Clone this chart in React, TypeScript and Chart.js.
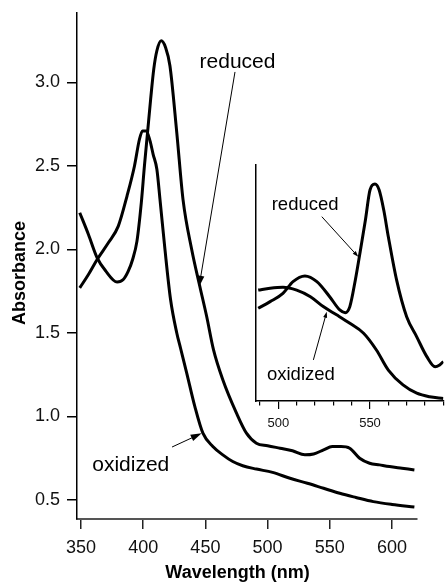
import React, { useEffect, useRef } from "react";
import { Chart, registerables } from "chart.js";

Chart.register(...registerables);

// ---------- main spectrum data ----------
const reducedWavelength = [349, 356, 363, 370, 379, 384, 388, 391.5, 395, 398.5, 401, 403.5, 406, 408.5, 411, 414.5, 418, 421.5, 427, 432, 439, 445.5, 451, 456.5, 464, 475, 483, 491, 500, 510, 520, 530, 537, 545, 552, 559, 566, 574, 582, 590, 598, 608, 618];
const reducedAbsorbance = [2.22, 2.09, 1.95, 1.87, 1.805, 1.82, 1.87, 1.94, 2.05, 2.28, 2.5, 2.7, 2.9, 3.08, 3.19, 3.25, 3.21, 3.1, 2.7, 2.3, 2.0, 1.78, 1.6, 1.4, 1.22, 1.02, 0.9, 0.84, 0.825, 0.81, 0.795, 0.77, 0.775, 0.8, 0.82, 0.82, 0.81, 0.75, 0.72, 0.71, 0.7, 0.69, 0.68];

const oxidizedWavelength = [349, 356, 363, 372, 380, 387, 393, 397, 399.5, 402.5, 405.5, 408, 411, 413.5, 417.5, 422, 427, 430, 435, 441.5, 448, 456, 464, 472, 480, 491, 504, 518, 532, 545, 558, 571, 585, 600, 618];
const oxidizedAbsorbance = [1.77, 1.85, 1.94, 2.04, 2.14, 2.32, 2.5, 2.66, 2.71, 2.71, 2.65, 2.57, 2.48, 2.3, 2.0, 1.7, 1.5, 1.41, 1.26, 1.06, 0.9, 0.82, 0.77, 0.73, 0.705, 0.685, 0.665, 0.63, 0.6, 0.57, 0.54, 0.515, 0.49, 0.473, 0.458];

const mainXTicks = [350, 400, 450, 500, 550, 600];
const mainYTicks = [0.5, 1.0, 1.5, 2.0, 2.5, 3.0];

// ---------- inset data (arbitrary units) ----------
const insetReducedWavelength = [489, 495.5, 502.5, 508, 514.5, 521, 528, 533.5, 536.5, 539, 542, 544.5, 547.5, 550, 552.7, 555, 557.5, 560, 564.5, 570, 575.5, 581, 585.5, 588, 590];
const insetReducedValue = [0.393, 0.421, 0.456, 0.506, 0.53, 0.506, 0.442, 0.386, 0.374, 0.4, 0.513, 0.626, 0.767, 0.894, 0.919, 0.894, 0.809, 0.696, 0.513, 0.357, 0.272, 0.188, 0.145, 0.153, 0.167];

const insetOxidizedWavelength = [489, 495.5, 502.5, 510, 517.5, 524.5, 532, 539, 546.5, 553.5, 560, 568, 575.5, 582.5, 590];
const insetOxidizedValue = [0.47, 0.478, 0.482, 0.47, 0.442, 0.4, 0.364, 0.329, 0.287, 0.216, 0.131, 0.068, 0.033, 0.018, 0.011];

const insetLabeledTicks = [500, 550];

// ---------- annotations (data coordinates) ----------
const mainLabelText = ["reduced", "oxidized"];
const mainLabelWl = [475.8, 390.0];
const mainLabelAbs = [3.087, 0.675];
const mainArrowFromWl = [473.8, 423.2];
const mainArrowFromAbs = [3.063, 0.817];
const mainArrowToWl = [444.9, 447.0];
const mainArrowToAbs = [1.777, 0.899];

const insetLabelText = ["reduced", "oxidized"];
const insetLabelWl = [514.6, 512.3];
const insetLabelVal = [0.809, 0.089];
const insetArrowFromWl = [523.7, 519.1];
const insetArrowFromVal = [0.781, 0.174];
const insetArrowToWl = [543.6, 526.4];
const insetArrowToVal = [0.611, 0.378];

const FONT = "'Liberation Sans', Arial, Helvetica, sans-serif";

function toPoints(xs: number[], ys: number[]) {
  return xs.map((x, i) => ({ x, y: ys[i] }));
}

function drawArrow(ctx: CanvasRenderingContext2D, x1: number, y1: number, x2: number, y2: number, headLen: number, headW: number, lw: number) {
  const ang = Math.atan2(y2 - y1, x2 - x1);
  const c = Math.cos(ang), s = Math.sin(ang);
  ctx.save();
  ctx.strokeStyle = "#000";
  ctx.fillStyle = "#000";
  ctx.lineWidth = lw;
  ctx.beginPath();
  ctx.moveTo(x1, y1);
  ctx.lineTo(x2 - headLen * 0.6 * c, y2 - headLen * 0.6 * s);
  ctx.stroke();
  ctx.beginPath();
  ctx.moveTo(x2, y2);
  ctx.lineTo(x2 - headLen * c + (headW / 2) * s, y2 - headLen * s - (headW / 2) * c);
  ctx.lineTo(x2 - headLen * c - (headW / 2) * s, y2 - headLen * s + (headW / 2) * c);
  ctx.closePath();
  ctx.fill();
  ctx.restore();
}

function makeAnnotationPlugin(
  id: string,
  texts: string[], lx: number[], ly: number[],
  fx: number[], fy: number[], tx: number[], ty: number[],
  fontSize: number, headLen: number, headW: number,
  extra?: (ctx: CanvasRenderingContext2D) => void
) {
  return {
    id,
    afterDraw(chart: any) {
      const ctx: CanvasRenderingContext2D = chart.ctx;
      const xs = chart.scales.x;
      const ys = chart.scales.y;
      ctx.save();
      ctx.fillStyle = "#000";
      ctx.font = `${fontSize}px ${FONT}`;
      ctx.textAlign = "center";
      ctx.textBaseline = "alphabetic";
      texts.forEach((t, i) => {
        ctx.fillText(t, xs.getPixelForValue(lx[i]), ys.getPixelForValue(ly[i]));
      });
      ctx.restore();
      fx.forEach((_, i) => {
        drawArrow(
          ctx,
          xs.getPixelForValue(fx[i]), ys.getPixelForValue(fy[i]),
          xs.getPixelForValue(tx[i]), ys.getPixelForValue(ty[i]),
          headLen, headW, 1
        );
      });
      if (extra) extra(ctx);
    },
  };
}

const noScalePadding = (s: any) => {
  s.paddingTop = 0;
  s.paddingBottom = 0;
  s.paddingLeft = 0;
  s.paddingRight = 0;
};

export default function App() {
  const mainRef = useRef<HTMLCanvasElement>(null);
  const insetRef = useRef<HTMLCanvasElement>(null);

  useEffect(() => {
    if (!mainRef.current || !insetRef.current) return;

    const mainPlugin = makeAnnotationPlugin(
      "mainAnnotations",
      mainLabelText, mainLabelWl, mainLabelAbs,
      mainArrowFromWl, mainArrowFromAbs, mainArrowToWl, mainArrowToAbs,
      21, 11, 7,
      (ctx) => {
        ctx.save();
        ctx.fillStyle = "#000";
        ctx.font = `bold 18px ${FONT}`;
        ctx.textAlign = "center";
        ctx.textBaseline = "alphabetic";
        ctx.fillText("Wavelength (nm)", 237.5, 577.5);
        ctx.translate(25, 273);
        ctx.rotate(-Math.PI / 2);
        ctx.fillText("Absorbance", 0, 0);
        ctx.restore();
      }
    );

    const main = new Chart(mainRef.current, {
      type: "line",
      data: {
        datasets: [
          {
            label: "reduced",
            data: toPoints(reducedWavelength, reducedAbsorbance),
            borderColor: "#000",
            borderWidth: 3,
            pointRadius: 0,
            cubicInterpolationMode: "monotone",
            fill: false,
          },
          {
            label: "oxidized",
            data: toPoints(oxidizedWavelength, oxidizedAbsorbance),
            borderColor: "#000",
            borderWidth: 3,
            pointRadius: 0,
            cubicInterpolationMode: "monotone",
            fill: false,
          },
        ],
      },
      options: {
        animation: false,
        responsive: false,
        devicePixelRatio: 1,
        layout: { padding: { top: 13, right: 28, left: 0, bottom: 0 } },
        plugins: { legend: { display: false }, tooltip: { enabled: false } },
        scales: {
          x: {
            type: "linear",
            min: 346.8,
            max: 620.1,
            afterFit: (s: any) => { s.height = 64; noScalePadding(s); },
            afterBuildTicks: (s: any) => { s.ticks = mainXTicks.map((v) => ({ value: v })); },
            ticks: {
              autoSkip: false,
              maxRotation: 0,
              padding: 8,
              color: "#111",
              font: { family: FONT, size: 18 },
              callback: (v: any) => String(v),
            },
            grid: { display: true, drawOnChartArea: false, drawTicks: true, tickLength: 10, color: "#222", lineWidth: 1.5 },
            border: { display: true, color: "#555", width: 2 },
          },
          y: {
            type: "linear",
            min: 0.386,
            max: 3.416,
            afterFit: (s: any) => { s.width = 77; noScalePadding(s); },
            afterBuildTicks: (s: any) => { s.ticks = mainYTicks.map((v) => ({ value: v })); },
            ticks: {
              autoSkip: false,
              padding: 7,
              color: "#111",
              font: { family: FONT, size: 18 },
              callback: (v: any) => Number(v).toFixed(1),
            },
            grid: { display: true, drawOnChartArea: false, drawTicks: true, tickLength: 10, color: "#000", lineWidth: 1.5 },
            border: { display: true, color: "#000", width: 1.5 },
          },
        },
      },
      plugins: [mainPlugin],
    } as any);

    const insetPlugin = makeAnnotationPlugin(
      "insetAnnotations",
      insetLabelText, insetLabelWl, insetLabelVal,
      insetArrowFromWl, insetArrowFromVal, insetArrowToWl, insetArrowToVal,
      18.5, 6, 4
    );

    const inset = new Chart(insetRef.current, {
      type: "line",
      data: {
        datasets: [
          {
            label: "reduced",
            data: toPoints(insetReducedWavelength, insetReducedValue),
            borderColor: "#000",
            borderWidth: 3,
            pointRadius: 0,
            cubicInterpolationMode: "monotone",
            fill: false,
          },
          {
            label: "oxidized",
            data: toPoints(insetOxidizedWavelength, insetOxidizedValue),
            borderColor: "#000",
            borderWidth: 3,
            pointRadius: 0,
            cubicInterpolationMode: "monotone",
            fill: false,
          },
        ],
      },
      options: {
        animation: false,
        responsive: false,
        devicePixelRatio: 1,
        layout: { padding: { top: 15, right: 1.5, left: 0, bottom: 0 } },
        plugins: { legend: { display: false }, tooltip: { enabled: false } },
        scales: {
          x: {
            type: "linear",
            min: 487.8,
            max: 590.1,
            afterFit: (s: any) => { s.height = 49; noScalePadding(s); },
            ticks: {
              stepSize: 10,
              includeBounds: false,
              autoSkip: false,
              maxRotation: 0,
              padding: 7,
              color: "#111",
              font: { family: FONT, size: 13 },
              callback: (v: any) => (insetLabeledTicks.includes(Math.round(Number(v))) ? String(Math.round(Number(v))) : ""),
            },
            grid: {
              display: true,
              drawOnChartArea: false,
              drawTicks: true,
              tickLength: 8,
              color: "#000",
              lineWidth: 1.2,
              tickBorderDash: (ctx: any) =>
                ctx.tick && insetLabeledTicks.includes(Math.round(ctx.tick.value)) ? [] : [4, 40],
            },
            border: { display: true, color: "#000", width: 1.5 },
          },
          y: {
            type: "linear",
            min: 0,
            max: 1,
            afterFit: (s: any) => { s.width = 56; noScalePadding(s); },
            ticks: { display: false },
            grid: { display: false },
            border: { display: true, color: "#000", width: 1.5 },
          },
        },
      },
      plugins: [insetPlugin],
    } as any);

    return () => {
      main.destroy();
      inset.destroy();
    };
  }, []);

  return (
    <div style={{ position: "fixed", left: 0, top: 0, width: 445, height: 583, background: "#fff" }}>
      <canvas ref={mainRef} width={445} height={583} style={{ position: "absolute", left: 0, top: 0, width: 445, height: 583 }} />
      <canvas ref={insetRef} width={245} height={300} style={{ position: "absolute", left: 200, top: 150, width: 245, height: 300 }} />
    </div>
  );
}
